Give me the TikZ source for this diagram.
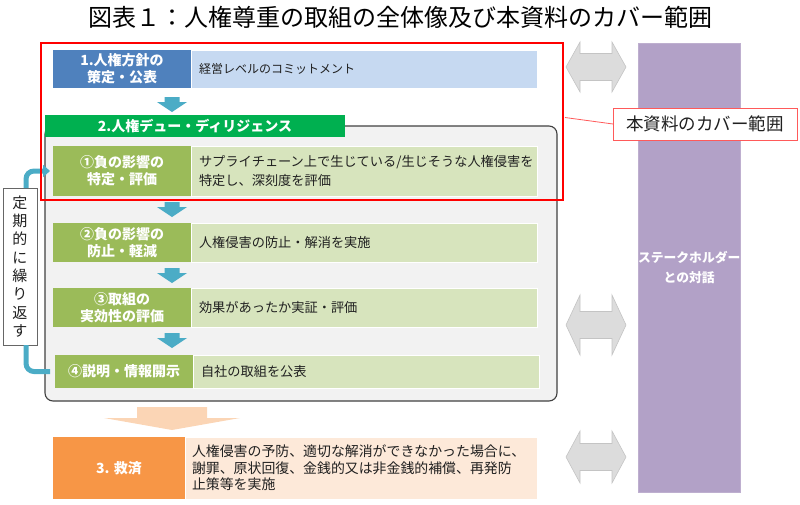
\documentclass[tikz,border=0pt]{standalone}
\usepackage{fontspec}
\setmainfont{Noto Sans CJK JP}
\usetikzlibrary{arrows.meta,positioning,calc}
\definecolor{PolicyBlue}{HTML}{4F81BD}
\definecolor{PolicyLight}{HTML}{C6D9F1}
\definecolor{DDGreen}{HTML}{00B050}
\definecolor{RowGreen}{HTML}{9BBB59}
\definecolor{RowLight}{HTML}{D7E4BD}
\definecolor{PanelGray}{HTML}{F2F2F2}
\definecolor{PanelEdge}{HTML}{404040}
\definecolor{StepBlue}{HTML}{4BACC6}
\definecolor{RemedyOrange}{HTML}{F79646}
\definecolor{RemedyLight}{HTML}{FDE9D9}
\definecolor{RemedyPeach}{HTML}{FBD5B5}
\definecolor{DlgPurple}{HTML}{B2A1C7}
\definecolor{DlgGray}{HTML}{DCDCDC}
\definecolor{DlgGrayEdge}{HTML}{C4C4C4}
\definecolor{CoverRed}{HTML}{FF0000}
\definecolor{CallRed}{HTML}{FF5A5A}
\definecolor{TextDark}{HTML}{202020}

\begin{document}
\begin{tikzpicture}[x=1pt,y=-1pt,
    every node/.style={inner sep=0pt,outer sep=0pt},
    lab/.style={anchor=north west,minimum width=138pt,text=white,align=center,
      font=\fontsize{14}{17}\selectfont\bfseries},
    desc/.style={draw=white,line width=.8pt,text width=330pt,inner xsep=8pt,align=left,
      text=TextDark,font=\fontsize{13.2}{19}\selectfont},
    panelbox/.style={anchor=north west,rounded corners=8pt,draw=PanelEdge,line width=1.1pt,fill=PanelGray},
    loopline/.style={StepBlue,line width=5pt,rounded corners=8pt},
    downblk/.pic={\fill[StepBlue] (-7.5,0) -- (7.5,0) -- (7.5,5) -- (15,5) -- (0,15) -- (-15,5) -- (-7.5,5) -- cycle;},
    remedyarr/.pic={\fill[RemedyPeach] (-35,0) -- (35,0) -- (35,11) -- (68,11) -- (0,23) -- (-68,11) -- (-35,11) -- cycle;},
    dblarr/.pic={\filldraw[fill=DlgGray,draw=DlgGrayEdge,line width=.6pt]
      (-30,0) -- (-16,-#1) -- (-16,-13.5) -- (16,-13.5) -- (16,-#1) -- (30,0)
      -- (16,#1) -- (16,13.5) -- (-16,13.5) -- (-16,#1) -- cycle;}
  ]
    \useasboundingbox (0,0) rectangle (800,504);

    \node[font=\fontsize{24}{28}\selectfont] (title) at (400,17) {図表１：人権尊重の取組の全体像及び本資料のカバー範囲};

    % policy
    \node[lab,fill=PolicyBlue,minimum height=38pt] (lab1) at (53,50) {1.人権方針の\\策定・公表};
    \node[desc,fill=PolicyLight,minimum height=38pt,right=0pt of lab1,font=\fontsize{12}{15}\selectfont] (desc1) {経営レベルのコミットメント};
    \pic at ($(lab1.south)+(50,9)$) {downblk};

    % due diligence
    \node[panelbox,minimum width=512pt,minimum height=275pt] (panel) at (45,126) {};
    \node[anchor=north west,fill=DDGreen,minimum width=300pt,minimum height=22pt,text=white,
      font=\fontsize{14}{17}\selectfont\bfseries] (ddhead) at (45,115) {2.人権デュー・ディリジェンス};

    \node[lab,fill=RowGreen,minimum height=50pt] (r1lab) at (53,146) {①負の影響の\\特定・評価};
    \node[desc,fill=RowLight,minimum height=50pt,right=0pt of r1lab] (r1desc) {サプライチェーン上で生じている/生じそうな人権侵害を\\特定し、深刻度を評価};
    \pic at ($(r1lab.south)+(50,6)$) {downblk};

    \node[lab,fill=RowGreen,minimum height=39pt] (r2lab) at (53,223) {②負の影響の\\防止・軽減};
    \node[desc,fill=RowLight,minimum height=39pt,right=0pt of r2lab] (r2desc) {人権侵害の防止・解消を実施};
    \pic at ($(r2lab.south)+(50,6)$) {downblk};

    \node[lab,fill=RowGreen,minimum height=39pt] (r3lab) at (53,288) {③取組の\\実効性の評価};
    \node[desc,fill=RowLight,minimum height=39pt,right=0pt of r3lab] (r3desc) {効果があったか実証・評価};
    \pic at ($(r3lab.south)+(50,6)$) {downblk};

    \node[lab,fill=RowGreen,minimum height=33pt] (r4lab) at (55,355) {④説明・情報開示};
    \node[desc,fill=RowLight,minimum height=33pt,right=0pt of r4lab] (r4desc) {自社の取組を公表};

    % periodic loop
    \node[anchor=north west,draw=gray!80!black,fill=white,minimum width=34pt,minimum height=157pt,
      align=center,font=\fontsize{15}{18.3}\selectfont,text=TextDark] (loop) at (3,188) {定\\期\\的\\に\\繰\\り\\返\\す};
    \draw[loopline] ($(r4lab.west)+(-5,0)$) -| ($(loop.south)+(6,0)$);
    \draw[loopline,-{Triangle[length=7pt,width=12pt]}] ($(loop.north)+(6,0)$) |- ($(r1lab.west)+(-3,0)$);

    % remedy
    \pic at ($(r4lab.south)+(48,19)$) {remedyarr};
    \node[lab,fill=RemedyOrange,minimum width=132pt,minimum height=62pt] (remlab) at (53,437) {3. 救済};
    \node[desc,fill=RemedyLight,minimum height=62pt,text width=338pt,inner xsep=7pt,right=0pt of remlab,
      font=\fontsize{13.9}{16.5}\selectfont] (remdesc) {人権侵害の予防、適切な解消ができなかった場合に、\\謝罪、原状回復、金銭的又は非金銭的補償、再発防\\止策等を実施};

    % dialogue
    \node[anchor=north west,fill=DlgPurple,draw=DlgPurple!85!white,minimum width=101pt,minimum height=449pt,
      text=white,align=center,font=\fontsize{12.8}{20}\selectfont\bfseries] (dialog) at (638,43) {ステークホルダー\\との対話};
    \pic at (596,67) {dblarr=25};
    \pic at (596,325) {dblarr=30};
    \pic at (596,457) {dblarr=26};

    % coverage of this document
    \node[anchor=north west,draw=CoverRed,line width=2.5pt,minimum width=522pt,minimum height=157pt] (cover) at (41,43) {};
    \node[anchor=north west,draw=CallRed,line width=1pt,fill=white,minimum width=184pt,minimum height=32pt,
      font=\fontsize{17.5}{20}\selectfont,text=TextDark] (callout) at (613,108) {本資料のカバー範囲};
    \draw[CallRed,line width=.8pt] ($(cover.east)+(2,-4)$) -- (callout.west);
  \end{tikzpicture}
\end{document}
